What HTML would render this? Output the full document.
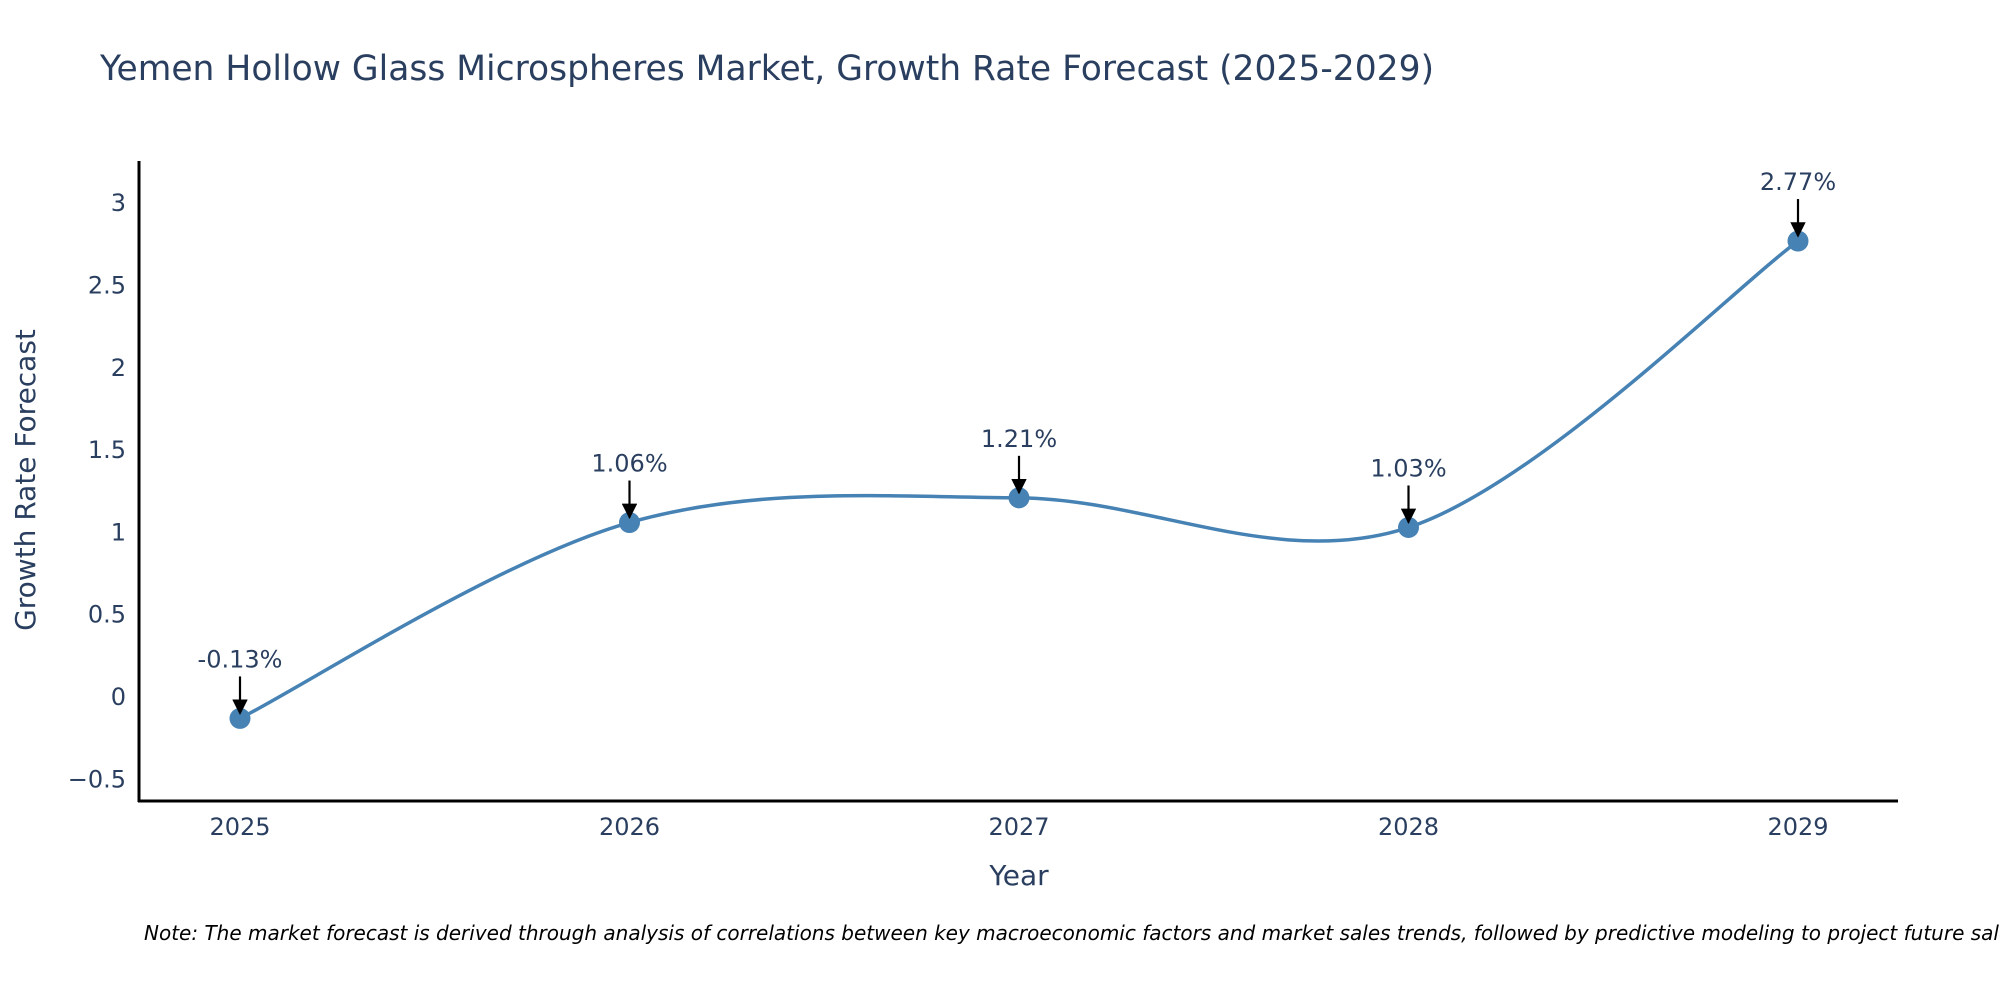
<!DOCTYPE html>
<html><head><meta charset="utf-8"><style>
body{margin:0;background:#fff;}
svg text{font-family:"DejaVu Sans","Liberation Sans",sans-serif;}
</style></head><body>
<svg width="2000" height="1000" viewBox="0 0 2000 1000" id="chart">
<defs><marker id="ah" viewBox="0 0 10 10" refX="9" refY="5" markerWidth="7" markerHeight="7" orient="auto"><path d="M0,0 L10,5 L0,10 z" fill="#000"/></marker></defs>
<text x="100" y="80" font-size="34.5" fill="#2a3f5f">Yemen Hollow Glass Microspheres Market, Growth Rate Forecast (2025-2029)</text>
<g id="yticks"></g><g id="xticks"></g>
<line x1="139" y1="161" x2="139" y2="802" stroke="#000" stroke-width="3"/>
<line x1="138" y1="801" x2="1898" y2="801" stroke="#000" stroke-width="3"/>
<text transform="translate(35,480) rotate(-90)" text-anchor="middle" font-size="28" fill="#2a3f5f">Growth Rate Forecast</text>
<text x="1019" y="885" text-anchor="middle" font-size="28" fill="#2a3f5f">Year</text>
<g id="series"></g>
<text x="144" y="940" font-size="20" font-style="italic" fill="#000">Note: The market forecast is derived through analysis of correlations between key macroeconomic factors and market sales trends, followed by predictive modeling to project future sales.</text>
</svg>
<script>
const years = ["2025","2026","2027","2028","2029"];
const values = [-0.13, 1.06, 1.21, 1.03, 2.77];
const labels = ["-0.13%","1.06%","1.21%","1.03%","2.77%"];
const yTickVals = [-0.5,0,0.5,1,1.5,2,2.5,3];
const yTickLabels = ["\u22120.5","0","0.5","1","1.5","2","2.5","3"];

const NS="http://www.w3.org/2000/svg";
function xs(i){return 240+i*389.5;}
function ys(v){return 697-v*164.6;}
function mk(tag,attrs,parent,txt){const e=document.createElementNS(NS,tag);for(const k in attrs)e.setAttribute(k,attrs[k]);if(txt!==undefined)e.textContent=txt;parent.appendChild(e);return e;}
const yt=document.getElementById('yticks'),xt=document.getElementById('xticks'),sg=document.getElementById('series');
yTickVals.forEach((v,i)=>{const t=mk('text',{x:126,y:ys(v)+8,'text-anchor':'end','font-size':24,fill:'#2a3f5f'},yt,yTickLabels[i]);

});
years.forEach((y,i)=>{const t=mk('text',{x:xs(i),y:835,'text-anchor':'middle','font-size':24,fill:'#2a3f5f'},xt,y);

});
const P=values.map((v,i)=>[xs(i),ys(v)]);
let d=`M${P[0][0]},${P[0][1]}`;
for(let i=0;i<P.length-1;i++){const p0=P[Math.max(0,i-1)],p1=P[i],p2=P[i+1],p3=P[Math.min(P.length-1,i+2)];const k=1/6;
const c1=[p1[0]+(p2[0]-p0[0])*k,p1[1]+(p2[1]-p0[1])*k],c2=[p2[0]-(p3[0]-p1[0])*k,p2[1]-(p3[1]-p1[1])*k];
d+=` C${c1[0]},${c1[1]} ${c2[0]},${c2[1]} ${p2[0]},${p2[1]}`;}
const line=mk('path',{d:d,fill:'none',stroke:'#4682b4','stroke-width':3.5},sg);


P.forEach((p,i)=>{
const c=mk('circle',{cx:p[0],cy:p[1],r:10.5,fill:'#4682b4'},sg);


const a=mk('line',{x1:p[0],y1:p[1]-42,x2:p[0],y2:p[1]-5,stroke:'#000','stroke-width':2.2,'marker-end':'url(#ah)'},sg);


const t=mk('text',{x:p[0],y:p[1]-51,'text-anchor':'middle','font-size':24,fill:'#2a3f5f'},sg,labels[i]);

});
</script>
</body></html>
